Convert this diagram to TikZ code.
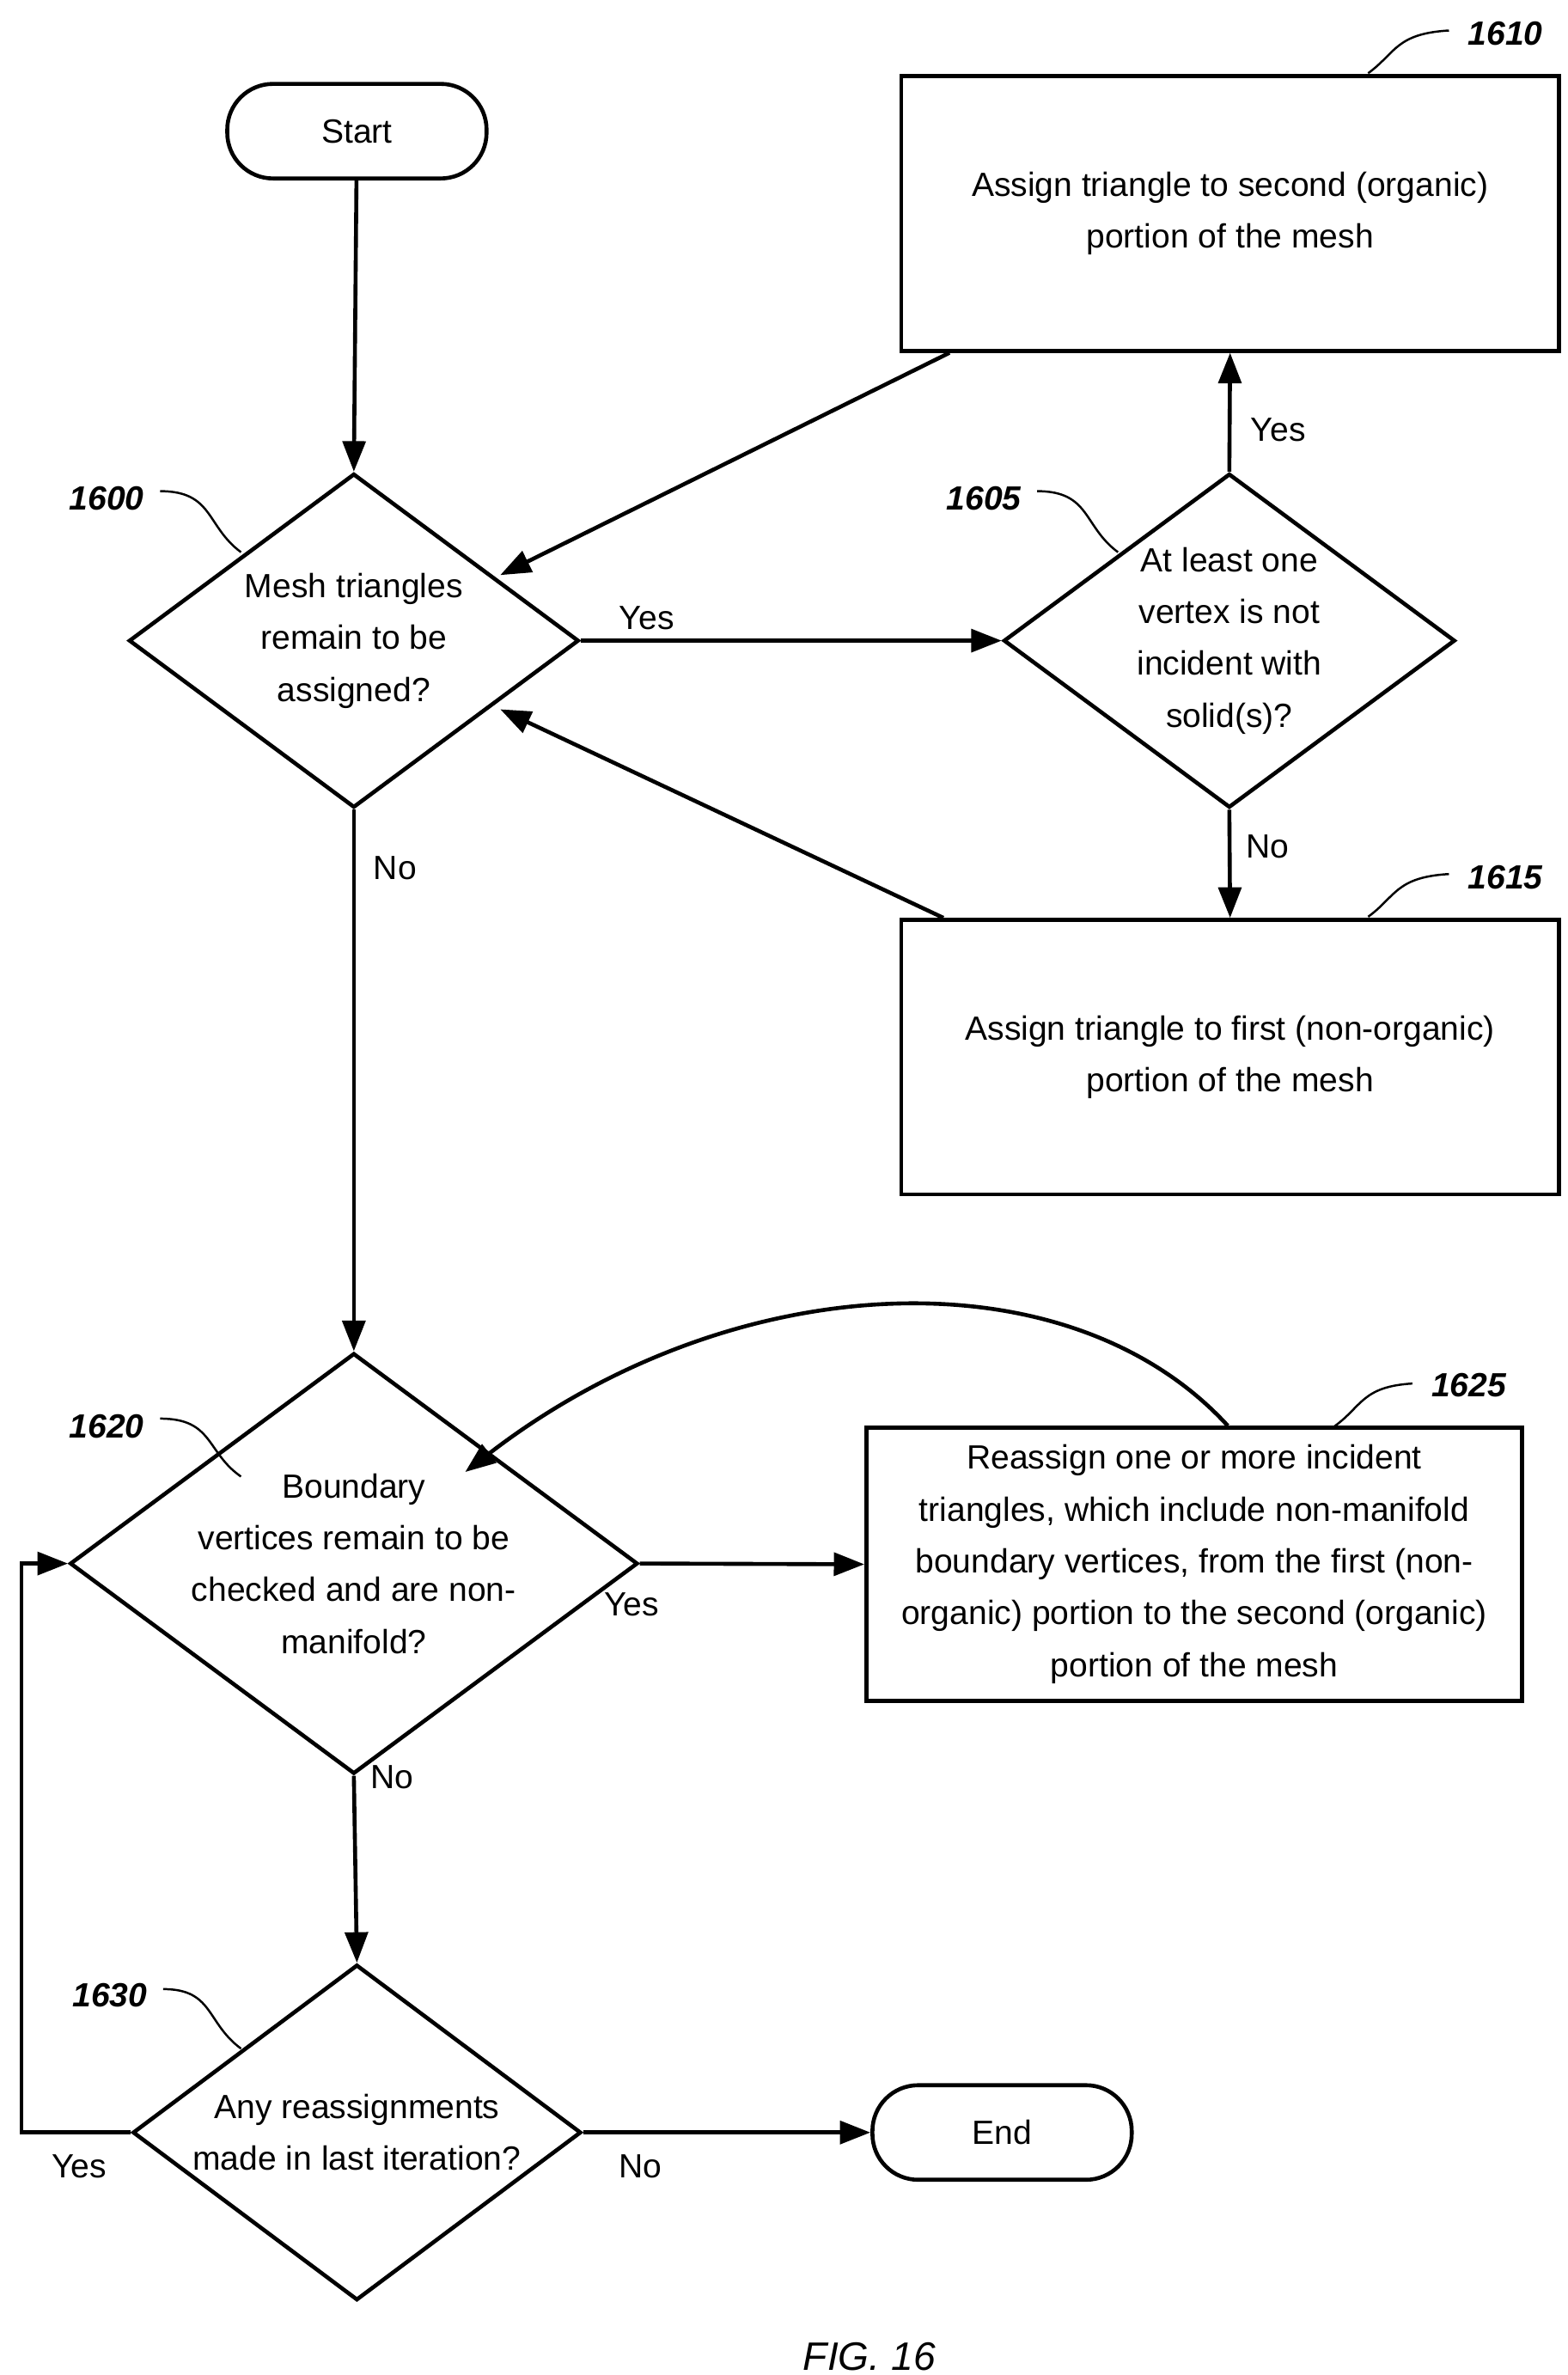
\documentclass[tikz,border=0pt]{standalone}
\usepackage{fontspec}
\setmainfont{Liberation Sans}
\usetikzlibrary{arrows.meta,shapes.geometric}
\begin{document}
\begin{tikzpicture}[x=1pt,y=-1pt,
  every node/.style={font=\fontsize{22}{34}\selectfont},
  line/.style={line width=2.6pt},
  arr/.style={line,-{Triangle[length=20pt,width=15pt]}},
  box/.style={draw,line width=2.6pt,rectangle,align=center,inner sep=0pt},
  term/.style={draw,line width=2.6pt,rounded corners=30pt,minimum width=170pt,minimum height=62pt},
  dia/.style={draw,line width=2.6pt,diamond,aspect=1.35,align=center,inner sep=0pt},
  lbl/.style={font=\fontsize{22}{26}\selectfont\bfseries\itshape},
  lead/.style={line width=1.4pt},
  yn/.style={font=\fontsize{22}{26}\selectfont}]
\useasboundingbox (0,0) rectangle (1028,1557);
\node[term] (start) at (234,86) {Start};
\node[term] (end) at (657,1398) {End};
\node[dia,minimum width=295pt,minimum height=219pt] (d1) at (232,420) {Mesh triangles\\remain to be\\assigned?};
\node[dia,minimum width=296pt,minimum height=219pt] (d2) at (806,420) {At least one\\vertex is not\\incident with\\solid(s)?};
\node[box,minimum width=431pt,minimum height=180pt] (b1) at (806.5,140) {Assign triangle to second (organic)\\portion of the mesh};
\node[box,minimum width=431pt,minimum height=180pt] (b2) at (806.5,693) {Assign triangle to first (non-organic)\\portion of the mesh};
\node[dia,minimum width=295pt,minimum height=220pt] (d3) at (232,1025) {Boundary\\vertices remain to be\\checked and are non-\\manifold?};
\node[box,minimum width=430pt,minimum height=179pt] (b3) at (783,1025.5) {Reassign one or more incident\\triangles, which include non-manifold\\boundary vertices, from the first (non-\\organic) portion to the second (organic)\\portion of the mesh};
\node[dia,minimum width=294pt,minimum height=220pt] (d4) at (234,1398) {Any reassignments\\made in last iteration?};
\coordinate (c1) at (14,1398);
\coordinate (c2) at (14,1025);
\draw[arr] (start) -- (d1.north);
\draw[arr] (d1.east) -- (d2.west);
\draw[arr] (d2.north) -- (b1.south);
\draw[arr] (d2.south) -- (b2.north);
\draw[arr] ([xshift=-184pt]b1.south) -- (328,377);
\draw[arr] ([xshift=-188pt]b2.north) -- (328,465);
\draw[arr] (d1.south) -- (d3.north);
\draw[arr] (d3.east) -- (b3.west);
\draw[arr] ([xshift=22pt]b3.north) .. controls (700,820) and (480,830) .. (305,965);
\draw[arr] (d3.south) -- (d4.north);
\draw[arr] (d4.east) -- (end.west);
\draw[arr] (d4.west) -- (c1) -- (c2) -- (d3.west);
\node[yn] (y1) at (424,405) {Yes};
\node[yn] (y2) at (838,282) {Yes};
\node[yn] (n2) at (831,555) {No};
\node[yn] (n1) at (259,569) {No};
\node[yn] (y3) at (414,1052) {Yes};
\node[yn] (n3) at (257,1165) {No};
\node[yn] (y4) at (52,1420) {Yes};
\node[yn] (n4) at (420,1420) {No};
\node[font=\fontsize{26}{30}\selectfont\itshape] (fig) at (570,1545) {FIG. 16};
\node[lbl] (l1610) at (987,22) {1610};
\node[lbl] (l1615) at (987,575) {1615};
\node[lbl] (l1625) at (963,908) {1625};
\node[lbl] (l1600) at (70,327) {1600};
\node[lbl] (l1605) at (645,327) {1605};
\node[lbl] (l1620) at (70,935) {1620};
\node[lbl] (l1630) at (72,1308) {1630};
\draw[lead] (897,48) .. controls (915,35) and (915,22) .. (950,20);
\draw[lead] (897,601) .. controls (915,588) and (915,575) .. (950,573);
\draw[lead] (875,935) .. controls (893,922) and (893,909) .. (926,907);
\draw[lead] (105,322) .. controls (140,322) and (135,345) .. (158,362);
\draw[lead] (680,322) .. controls (715,322) and (710,345) .. (733,362);
\draw[lead] (105,930) .. controls (140,930) and (135,952) .. (158,968);
\draw[lead] (107,1304) .. controls (140,1304) and (135,1326) .. (158,1343);
\end{tikzpicture}
\end{document}
